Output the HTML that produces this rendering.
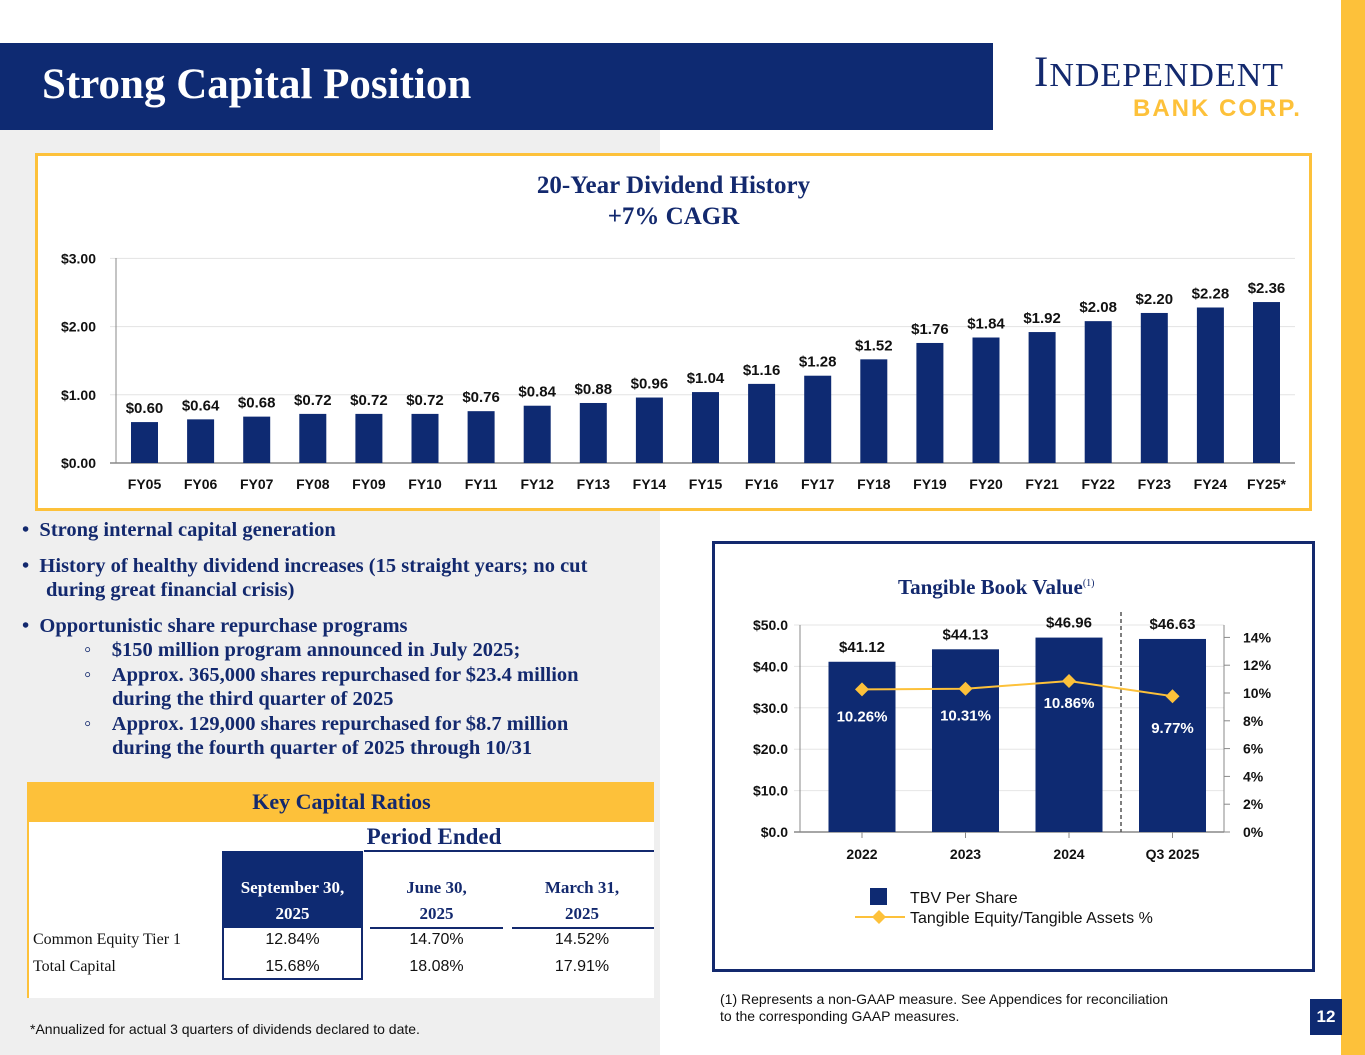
<!DOCTYPE html>
<html><head><meta charset="utf-8"><style>
body{margin:0;width:1365px;height:1055px;position:relative;overflow:hidden;background:#fff;font-family:"Liberation Sans",sans-serif}
.abs{position:absolute}
.serif{font-family:"Liberation Serif",serif;font-weight:bold;color:#13296e}
</style></head><body>
<div class="abs" style="left:0;top:130px;width:660px;height:925px;background:#efefef"></div>
<div class="abs" style="left:1341px;top:0;width:24px;height:1055px;background:#fdc13a"></div>
<div class="abs" style="left:0;top:43px;width:993px;height:87px;background:#0e2a72"></div>
<div class="abs serif" style="left:42px;top:60px;font-size:43px;color:#fff">Strong Capital Position</div>
<div class="abs" style="left:1034px;top:48px;font-family:'Liberation Serif',serif;font-size:43px;color:#13296e;letter-spacing:1px">I<span style="font-size:34px">NDEPENDENT</span></div>
<div class="abs" style="left:1133px;top:95px;font-size:24px;font-weight:bold;color:#fdc13a;letter-spacing:2px">BANK CORP.</div>

<div class="abs" style="left:35px;top:153px;width:1271px;height:352px;border:3px solid #fdc13a;background:#fff"></div>
<div class="abs serif" style="left:35px;width:1277px;top:170px;text-align:center;font-size:25px;line-height:31px">20-Year Dividend History<br>+7% CAGR</div>
<svg class="abs" style="left:0;top:0" width="1365" height="520" id="div"></svg>

<div class="abs serif" style="left:22px;top:518px;width:600px;font-size:20.5px;line-height:24.5px">
<div style="margin-bottom:11px">•&nbsp;&nbsp;Strong internal capital generation</div>
<div style="margin-bottom:11px;padding-left:24px;text-indent:-24px">•&nbsp;&nbsp;History of healthy dividend increases (15 straight years; no cut during great financial crisis)</div>
<div style="padding-left:24px;text-indent:-24px">•&nbsp;&nbsp;Opportunistic share repurchase programs</div>
<div style="padding-left:90px;text-indent:-28px">◦&nbsp;&nbsp;&nbsp;&nbsp;$150 million program announced in July 2025;</div>
<div style="padding-left:90px;text-indent:-28px">◦&nbsp;&nbsp;&nbsp;&nbsp;Approx. 365,000 shares repurchased for $23.4 million during the third quarter of 2025</div>
<div style="padding-left:90px;text-indent:-28px">◦&nbsp;&nbsp;&nbsp;&nbsp;Approx. 129,000 shares repurchased for $8.7 million during the fourth quarter of 2025 through 10/31</div>
</div>

<div class="abs" style="left:27px;top:782px;width:625px;height:216px;background:#fff;border-left:2px solid #fdc13a">
<div class="abs serif" style="left:0;top:0;width:625px;height:40px;background:#fdc13a;text-align:center;line-height:40px;font-size:22px">Key Capital Ratios</div>
<div class="abs serif" style="left:330px;top:40px;width:150px;text-align:center;font-size:23px;line-height:30px">Period Ended</div>
<div class="abs" style="left:335px;top:68px;width:290px;height:2px;background:#13296e"></div>
<div class="abs serif" style="left:193px;top:69px;width:141px;height:77px;background:#0e2a72;color:#fff;text-align:center;font-size:17px;line-height:26px"><div style="padding-top:24px">September 30,<br>2025</div></div>
<div class="abs" style="left:193px;top:146px;width:137px;height:50px;border:2px solid #13296e;border-top:none"></div>
<div class="abs serif" style="left:341px;top:93px;width:133px;text-align:center;font-size:17px;line-height:26px">June 30,<br>2025</div>
<div class="abs" style="left:341px;top:145px;width:133px;height:2px;background:#13296e"></div>
<div class="abs serif" style="left:483px;top:93px;width:140px;text-align:center;font-size:17px;line-height:26px">March 31,<br>2025</div>
<div class="abs" style="left:483px;top:145px;width:142px;height:2px;background:#13296e"></div>
<div class="abs" style="left:4px;top:149px;width:620px;font-family:'Liberation Serif',serif;font-size:16px;color:#111">
<span class="abs" style="left:0">Common Equity Tier 1</span><span class="abs" style="left:189px;width:141px;text-align:center;font-family:'Liberation Sans'">12.84%</span><span class="abs" style="left:337px;width:133px;text-align:center;font-family:'Liberation Sans'">14.70%</span><span class="abs" style="left:479px;width:140px;text-align:center;font-family:'Liberation Sans'">14.52%</span></div>
<div class="abs" style="left:4px;top:176px;width:620px;font-family:'Liberation Serif',serif;font-size:16px;color:#111">
<span class="abs" style="left:0">Total Capital</span><span class="abs" style="left:189px;width:141px;text-align:center;font-family:'Liberation Sans'">15.68%</span><span class="abs" style="left:337px;width:133px;text-align:center;font-family:'Liberation Sans'">18.08%</span><span class="abs" style="left:479px;width:140px;text-align:center;font-family:'Liberation Sans'">17.91%</span></div>
</div>
<div class="abs" style="left:30px;top:1021px;font-size:14px;color:#111">*Annualized for actual 3 quarters of dividends declared to date.</div>

<div class="abs" style="left:712px;top:541px;width:597px;height:425px;border:3px solid #13296e"></div>
<div class="abs serif" style="left:898px;top:575px;font-size:21px">Tangible Book Value<sup style="font-size:10px;font-weight:normal">(1)</sup></div>
<svg class="abs" style="left:0;top:0" width="1365" height="1055" id="tbv"></svg>
<div class="abs" style="left:720px;top:991px;font-size:14px;line-height:17px;color:#111">(1) Represents a non-GAAP measure. See Appendices for reconciliation<br>to the corresponding GAAP measures.</div>
<div class="abs" style="left:1310px;top:999px;width:32px;height:36px;background:#0e2a72;color:#fff;font-weight:bold;font-size:17px;text-align:center;line-height:36px">12</div>

<script>
const divCats=["FY05","FY06","FY07","FY08","FY09","FY10","FY11","FY12","FY13","FY14","FY15","FY16","FY17","FY18","FY19","FY20","FY21","FY22","FY23","FY24","FY25*"];
const divVals=[0.60,0.64,0.68,0.72,0.72,0.72,0.76,0.84,0.88,0.96,1.04,1.16,1.28,1.52,1.76,1.84,1.92,2.08,2.20,2.28,2.36];
const divTicks=[0,1,2,3];
const tbvCats=["2022","2023","2024","Q3 2025"];
const tbvVals=[41.12,44.13,46.96,46.63];
const tcePct=[10.26,10.31,10.86,9.77];
const tbvTicks=[0,10,20,30,40,50];
const pctTicks=[0,2,4,6,8,10,12,14];
const NS="http://www.w3.org/2000/svg";
function mk(svg,tag,at,txt){const e=document.createElementNS(NS,tag);for(const k in at)e.setAttribute(k,at[k]);if(txt!=null)e.textContent=txt;svg.appendChild(e);return e;}
const d=document.getElementById('div');
const dx=i=>144.5+i*56.1, dy=v=>463-v*68.2;
divTicks.forEach(t=>{
 const g=mk(d,'line',{x1:110,x2:1295,y1:dy(t),y2:dy(t),stroke:t?'#e3e3e3':'#888','stroke-width':t?1:1.5});
 
 const l=mk(d,'text',{x:96,y:dy(t)+5,'text-anchor':'end','font-size':14,'font-weight':'bold',fill:'#111'},'$'+t.toFixed(2));
 
});
mk(d,'line',{x1:116,x2:116,y1:258,y2:463,stroke:'#888'});
divVals.forEach((v,i)=>{
 const r=mk(d,'rect',{x:dx(i)-13.5,y:dy(v),width:27,height:dy(0)-dy(v),fill:'#0e2a72'});
 
 const l=mk(d,'text',{x:dx(i),y:dy(v)-9,'text-anchor':'middle','font-size':15,'font-weight':'bold',fill:'#111'},'$'+v.toFixed(2));
 
 const c=mk(d,'text',{x:dx(i),y:489,'text-anchor':'middle','font-size':14,'font-weight':'bold',fill:'#111'},divCats[i]);
 
});
const s=document.getElementById('tbv');
const tx=i=>862+i*103.5, ty=v=>832-v*4.14, py=p=>832-p*13.9;
tbvTicks.forEach(t=>{
 const g=mk(s,'line',{x1:794,x2:1224,y1:ty(t),y2:ty(t),stroke:t?'#e6e6e6':'#888','stroke-width':t?1:1.5});
 
 const l=mk(s,'text',{x:788,y:ty(t)+5,'text-anchor':'end','font-size':14,'font-weight':'bold',fill:'#111'},'$'+t.toFixed(1));
 
});
mk(s,'line',{x1:800,x2:800,y1:625,y2:832,stroke:'#888'});
mk(s,'line',{x1:1224,x2:1224,y1:625,y2:832,stroke:'#888'});
pctTicks.forEach(p=>{
 mk(s,'line',{x1:1224,x2:1230,y1:py(p),y2:py(p),stroke:'#888'});
 const l=mk(s,'text',{x:1243,y:py(p)+5,'font-size':14,'font-weight':'bold',fill:'#111'},p+'%');
 
});
mk(s,'line',{x1:1121,x2:1121,y1:612,y2:832,stroke:'#555','stroke-dasharray':'4,3','stroke-width':1.5});
tbvVals.forEach((v,i)=>{
 const r=mk(s,'rect',{x:tx(i)-33.5,y:ty(v),width:67,height:ty(0)-ty(v),fill:'#0e2a72'});
 
 const l=mk(s,'text',{x:tx(i),y:ty(v)-10,'text-anchor':'middle','font-size':15,'font-weight':'bold',fill:'#111'},'$'+v.toFixed(2));
 
 mk(s,'line',{x1:tx(i),x2:tx(i),y1:832,y2:838,stroke:'#888'});
 const c=mk(s,'text',{x:tx(i),y:859,'text-anchor':'middle','font-size':14,'font-weight':'bold',fill:'#111'},tbvCats[i]);
 
});
const pl=mk(s,'polyline',{points:tcePct.map((p,i)=>tx(i)+','+py(p)).join(' '),fill:'none',stroke:'#fdc13a','stroke-width':2});

tcePct.forEach((p,i)=>{
 const m=mk(s,'path',{d:`M${tx(i)},${py(p)-7}l7,7l-7,7l-7,-7z`,fill:'#fdc13a'});
 
 const l=mk(s,'text',{x:tx(i),y:py(p)+(i==2?27:i==3?37:32),'text-anchor':'middle','font-size':15,'font-weight':'bold',fill:'#fff'},p.toFixed(2)+'%');
 
});
const lg=mk(s,'rect',{x:870,y:888,width:17,height:17,fill:'#0e2a72'});

const lt1=mk(s,'text',{x:910,y:903,'font-size':16,fill:'#111'},'TBV Per Share');

mk(s,'line',{x1:855,x2:905,y1:917,y2:917,stroke:'#fdc13a','stroke-width':2});
mk(s,'path',{d:'M879,910l7,7l-7,7l-7,-7z',fill:'#fdc13a'});
const lt2=mk(s,'text',{x:910,y:923,'font-size':16,fill:'#111'},'Tangible Equity/Tangible Assets %');

</script>
</body></html>
